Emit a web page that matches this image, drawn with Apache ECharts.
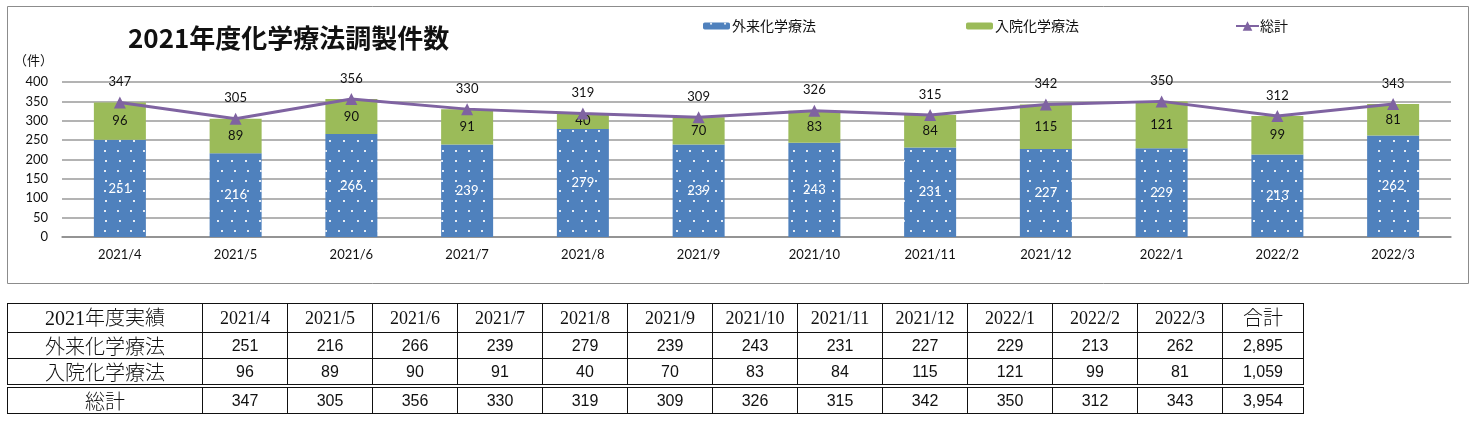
<!DOCTYPE html>
<html>
<head>
<meta charset="utf-8">
<script src="https://cdn.jsdelivr.net/npm/echarts@6/dist/echarts.min.js"></script>
<style>
  html, body { margin: 0; padding: 0; background: #fff; }
  #chart { position: absolute; left: 0; top: 0; width: 1479px; height: 423px; }
  #tbl { position: absolute; left: 7px; top: 303px; border-collapse: collapse; table-layout: fixed; width: 1296px; }
  #tbl td { border: 1.5px solid #111; text-align: center; vertical-align: middle; padding: 0; color: #111; white-space: nowrap; overflow: hidden; line-height: 18px; }
  #tbl tr.h td { height: 28px; font-family: "Liberation Serif", "Noto Sans CJK JP", serif; font-size: 18px; }
  #tbl td.lab { font-family: "Noto Sans CJK JP", sans-serif; font-size: 20px; font-weight: 300; }
  #tbl tr.h td.lab { font-size: 20px; }
  #tbl td.num { font-family: "Liberation Sans", "Noto Sans", sans-serif; font-size: 16px; }
  #tbl tr.r td { height: 25px; }
  #tbl tr.t td { height: 25px; border-top: 4px double #111; }
</style>
</head>
<body>
<div id="chart"></div>
<table id="tbl"></table>
<script>
// ---- data ----
const categories = ['2021/4','2021/5','2021/6','2021/7','2021/8','2021/9','2021/10','2021/11','2021/12','2022/1','2022/2','2022/3'];
const outpatient = [251, 216, 266, 239, 279, 239, 243, 231, 227, 229, 213, 262];
const inpatient  = [96, 89, 90, 91, 40, 70, 83, 84, 115, 121, 99, 81];
const totals     = [347, 305, 356, 330, 319, 309, 326, 315, 342, 350, 312, 343];
const seriesNames = ['外来化学療法', '入院化学療法', '総計'];
const yTicks = [0, 50, 100, 150, 200, 250, 300, 350, 400];
const tableHeader = '2021年度実績';
const tableTotalHeader = '合計';

const latin = "Lato, 'Noto Sans CJK JP', sans-serif";
const cjk = "'Noto Sans CJK JP', sans-serif";

const chart = echarts.init(document.getElementById('chart'), null, { renderer: 'canvas' });
chart.setOption({
  animation: false,
  backgroundColor: '#fff',
  title: {
    text: '2021年度化学療法調製件数',
    left: 123, top: 20,
    textStyle: { fontFamily: cjk, fontSize: 26, fontWeight: 'bold', color: '#111' }
  },
  graphic: [
    { type: 'rect', shape: { x: 7.5, y: 6.5, width: 1461, height: 277 }, style: { fill: 'none', stroke: '#8c8c8c', lineWidth: 1 }, silent: true },
    { type: 'text', left: 14, top: 54, style: { text: '（件）', font: "13px 'Noto Sans CJK JP'", fill: '#111' } }
  ],
  legend: [
    { data: [seriesNames[0]], left: 703, top: 19, padding: 0, itemWidth: 27, itemHeight: 7, itemGap: 0,
      textStyle: { fontFamily: cjk, fontSize: 14, color: '#111', padding: [0, 0, 0, -3] } },
    { data: [seriesNames[1]], left: 966, top: 19, padding: 0, itemWidth: 27, itemHeight: 7, itemGap: 0,
      textStyle: { fontFamily: cjk, fontSize: 14, color: '#111', padding: [0, 0, 0, -3] } },
    { data: [seriesNames[2]], left: 1235, top: 19, padding: 0, itemWidth: 23, itemHeight: 12, itemGap: 0,
      textStyle: { fontFamily: cjk, fontSize: 14, color: '#111', padding: [0, 0, 0, -4] } }
  ],
  grid: { left: 62, right: 28, top: 82, bottom: 186, containLabel: false },
  xAxis: {
    type: 'category',
    data: categories,
    axisTick: { show: false },
    axisLine: { lineStyle: { color: '#8a8a8a', width: 1.5 } },
    axisLabel: { fontFamily: latin, fontSize: 13, color: '#111', margin: 11 }
  },
  yAxis: {
    type: 'value',
    min: yTicks[0], max: yTicks[yTicks.length - 1], interval: yTicks[1] - yTicks[0],
    axisLine: { show: false },
    axisTick: { show: false },
    splitLine: { lineStyle: { color: '#9a9a9a', width: 1.5 } },
    axisLabel: { fontFamily: latin, fontSize: 13, color: '#111', margin: 14 }
  },
  series: [
    {
      name: seriesNames[0], type: 'bar', stack: 'all', data: outpatient, barWidth: 52,
      itemStyle: {
        color: '#4F81BD',
        decal: { symbol: 'rect', symbolSize: 1, color: 'rgba(255,255,255,0.85)',
                 dashArrayX: [[2, 11], [0, 6.5, 2, 4.5]], dashArrayY: [2, 8] }
      },
      label: { show: true, position: 'inside', color: '#fff', fontFamily: latin, fontSize: 13 }
    },
    {
      name: seriesNames[1], type: 'bar', stack: 'all', data: inpatient, barWidth: 52,
      itemStyle: { color: '#9BBB59' },
      label: { show: true, position: 'inside', color: '#111', fontFamily: latin, fontSize: 13 }
    },
    {
      name: seriesNames[2], type: 'line', data: totals,
      symbol: 'triangle', symbolSize: 12,
      lineStyle: { color: '#7F63A1', width: 3 },
      itemStyle: { color: '#7F63A1' },
      label: { show: true, position: 'top', distance: 8, color: '#111', fontFamily: latin, fontSize: 13 },
      z: 5
    }
  ]
});

// ---- table built from the same arrays ----
const fmt = n => n.toLocaleString('en-US');
const sum = a => a.reduce((s, v) => s + v, 0);
const tbl = document.getElementById('tbl');
let html = '<colgroup><col style="width:195px">' + categories.map(() => '<col style="width:85px">').join('') + '<col style="width:81px"></colgroup>';
html += '<tr class="h"><td class="lab">' + tableHeader + '</td>' + categories.map(c => '<td>' + c + '</td>').join('') + '<td class="lab">' + tableTotalHeader + '</td></tr>';
const rows = [[seriesNames[0], outpatient, 'r'], [seriesNames[1], inpatient, 'r'], [seriesNames[2], totals, 't']];
rows.forEach(([name, arr, cls]) => {
  html += '<tr class="' + cls + '"><td class="lab">' + name + '</td>' + arr.map(v => '<td class="num">' + fmt(v) + '</td>').join('') + '<td class="num">' + fmt(sum(arr)) + '</td></tr>';
});
tbl.innerHTML = html;
</script>
</body>
</html>
